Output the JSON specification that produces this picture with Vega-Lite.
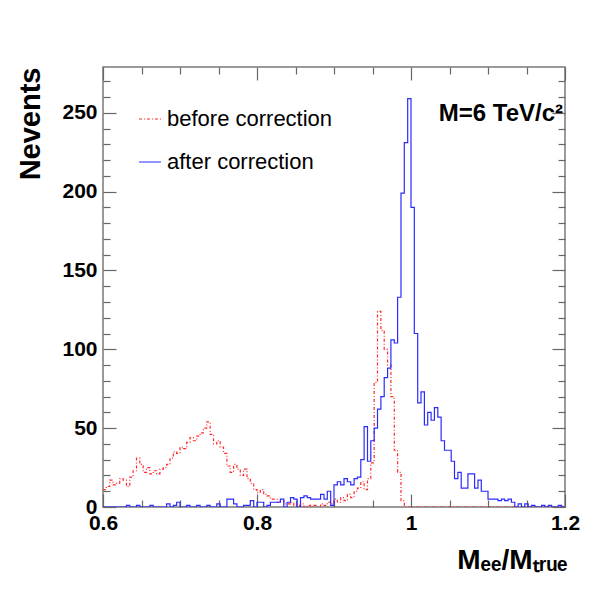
{
  "$schema": "https://vega.github.io/schema/vega-lite/v6.json",
  "width": 462,
  "height": 440,
  "autosize": {"type": "none"},
  "padding": {"left": 103, "top": 67, "right": 51, "bottom": 84},
  "background": "white",
  "config": {
    "font": "Liberation Sans",
    "view": {"stroke": "#7a7a7a", "strokeWidth": 1.5},
    "legend": {
      "symbolType": "stroke",
      "symbolSize": 484,
      "symbolStrokeWidth": 1.2,
      "labelFont": "Liberation Sans",
      "labelFontSize": 22,
      "labelColor": "black",
      "labelLimit": 0,
      "labelOffset": 5,
      "rowPadding": 20,
      "padding": 0
    }
  },
  "layer": [
    {
      "data": {
        "values": [
          {"series": "before correction", "x": 0.6000, "n": 11},
          {"series": "before correction", "x": 0.6043, "n": 13},
          {"series": "before correction", "x": 0.6087, "n": 17},
          {"series": "before correction", "x": 0.6130, "n": 14},
          {"series": "before correction", "x": 0.6174, "n": 15},
          {"series": "before correction", "x": 0.6217, "n": 18},
          {"series": "before correction", "x": 0.6261, "n": 17},
          {"series": "before correction", "x": 0.6304, "n": 13},
          {"series": "before correction", "x": 0.6348, "n": 19},
          {"series": "before correction", "x": 0.6391, "n": 23},
          {"series": "before correction", "x": 0.6435, "n": 31},
          {"series": "before correction", "x": 0.6478, "n": 27},
          {"series": "before correction", "x": 0.6522, "n": 22},
          {"series": "before correction", "x": 0.6565, "n": 25},
          {"series": "before correction", "x": 0.6609, "n": 21},
          {"series": "before correction", "x": 0.6652, "n": 23},
          {"series": "before correction", "x": 0.6696, "n": 21},
          {"series": "before correction", "x": 0.6739, "n": 24},
          {"series": "before correction", "x": 0.6783, "n": 25},
          {"series": "before correction", "x": 0.6826, "n": 27},
          {"series": "before correction", "x": 0.6870, "n": 31},
          {"series": "before correction", "x": 0.6913, "n": 35},
          {"series": "before correction", "x": 0.6957, "n": 34},
          {"series": "before correction", "x": 0.7000, "n": 38},
          {"series": "before correction", "x": 0.7043, "n": 37},
          {"series": "before correction", "x": 0.7087, "n": 41},
          {"series": "before correction", "x": 0.7130, "n": 44},
          {"series": "before correction", "x": 0.7174, "n": 42},
          {"series": "before correction", "x": 0.7217, "n": 45},
          {"series": "before correction", "x": 0.7261, "n": 47},
          {"series": "before correction", "x": 0.7304, "n": 50},
          {"series": "before correction", "x": 0.7348, "n": 54},
          {"series": "before correction", "x": 0.7391, "n": 46},
          {"series": "before correction", "x": 0.7435, "n": 40},
          {"series": "before correction", "x": 0.7478, "n": 42},
          {"series": "before correction", "x": 0.7522, "n": 38},
          {"series": "before correction", "x": 0.7565, "n": 34},
          {"series": "before correction", "x": 0.7609, "n": 26},
          {"series": "before correction", "x": 0.7652, "n": 22},
          {"series": "before correction", "x": 0.7696, "n": 27},
          {"series": "before correction", "x": 0.7739, "n": 24},
          {"series": "before correction", "x": 0.7783, "n": 20},
          {"series": "before correction", "x": 0.7826, "n": 24},
          {"series": "before correction", "x": 0.7870, "n": 18},
          {"series": "before correction", "x": 0.7913, "n": 15},
          {"series": "before correction", "x": 0.7957, "n": 11},
          {"series": "before correction", "x": 0.8000, "n": 9},
          {"series": "before correction", "x": 0.8043, "n": 11},
          {"series": "before correction", "x": 0.8087, "n": 8},
          {"series": "before correction", "x": 0.8130, "n": 7},
          {"series": "before correction", "x": 0.8174, "n": 5},
          {"series": "before correction", "x": 0.8217, "n": 5},
          {"series": "before correction", "x": 0.8261, "n": 3},
          {"series": "before correction", "x": 0.8304, "n": 4},
          {"series": "before correction", "x": 0.8348, "n": 2},
          {"series": "before correction", "x": 0.8391, "n": 2},
          {"series": "before correction", "x": 0.8435, "n": 3},
          {"series": "before correction", "x": 0.8478, "n": 1},
          {"series": "before correction", "x": 0.8522, "n": 1},
          {"series": "before correction", "x": 0.8565, "n": 2},
          {"series": "before correction", "x": 0.8609, "n": 0},
          {"series": "before correction", "x": 0.8652, "n": 1},
          {"series": "before correction", "x": 0.8696, "n": 0},
          {"series": "before correction", "x": 0.8739, "n": 1},
          {"series": "before correction", "x": 0.8783, "n": 0},
          {"series": "before correction", "x": 0.8826, "n": 2},
          {"series": "before correction", "x": 0.8870, "n": 1},
          {"series": "before correction", "x": 0.8913, "n": 3},
          {"series": "before correction", "x": 0.8957, "n": 2},
          {"series": "before correction", "x": 0.9000, "n": 5},
          {"series": "before correction", "x": 0.9043, "n": 3},
          {"series": "before correction", "x": 0.9087, "n": 6},
          {"series": "before correction", "x": 0.9130, "n": 4},
          {"series": "before correction", "x": 0.9174, "n": 8},
          {"series": "before correction", "x": 0.9217, "n": 6},
          {"series": "before correction", "x": 0.9261, "n": 10},
          {"series": "before correction", "x": 0.9304, "n": 12},
          {"series": "before correction", "x": 0.9348, "n": 16},
          {"series": "before correction", "x": 0.9391, "n": 11},
          {"series": "before correction", "x": 0.9435, "n": 18},
          {"series": "before correction", "x": 0.9478, "n": 28},
          {"series": "before correction", "x": 0.9522, "n": 79},
          {"series": "before correction", "x": 0.9565, "n": 124},
          {"series": "before correction", "x": 0.9609, "n": 112},
          {"series": "before correction", "x": 0.9652, "n": 100},
          {"series": "before correction", "x": 0.9696, "n": 90},
          {"series": "before correction", "x": 0.9739, "n": 70},
          {"series": "before correction", "x": 0.9783, "n": 36},
          {"series": "before correction", "x": 0.9826, "n": 22},
          {"series": "before correction", "x": 0.9870, "n": 4},
          {"series": "before correction", "x": 0.9913, "n": 0},
          {"series": "before correction", "x": 1.2000, "n": 0},

          {"series": "after correction", "x": 0.6000, "n": 0},
          {"series": "after correction", "x": 0.6304, "n": 1},
          {"series": "after correction", "x": 0.6348, "n": 0},
          {"series": "after correction", "x": 0.6435, "n": 1},
          {"series": "after correction", "x": 0.6478, "n": 0},
          {"series": "after correction", "x": 0.6609, "n": 1},
          {"series": "after correction", "x": 0.6652, "n": 0},
          {"series": "after correction", "x": 0.6826, "n": 2},
          {"series": "after correction", "x": 0.6870, "n": 0},
          {"series": "after correction", "x": 0.6913, "n": 1},
          {"series": "after correction", "x": 0.6957, "n": 3},
          {"series": "after correction", "x": 0.7000, "n": 0},
          {"series": "after correction", "x": 0.7087, "n": 1},
          {"series": "after correction", "x": 0.7130, "n": 0},
          {"series": "after correction", "x": 0.7217, "n": 1},
          {"series": "after correction", "x": 0.7261, "n": 0},
          {"series": "after correction", "x": 0.7348, "n": 1},
          {"series": "after correction", "x": 0.7391, "n": 0},
          {"series": "after correction", "x": 0.7478, "n": 2},
          {"series": "after correction", "x": 0.7522, "n": 0},
          {"series": "after correction", "x": 0.7609, "n": 5},
          {"series": "after correction", "x": 0.7652, "n": 5},
          {"series": "after correction", "x": 0.7696, "n": 2},
          {"series": "after correction", "x": 0.7739, "n": 0},
          {"series": "after correction", "x": 0.7826, "n": 1},
          {"series": "after correction", "x": 0.7870, "n": 1},
          {"series": "after correction", "x": 0.7913, "n": 4},
          {"series": "after correction", "x": 0.7957, "n": 0},
          {"series": "after correction", "x": 0.8000, "n": 3},
          {"series": "after correction", "x": 0.8043, "n": 3},
          {"series": "after correction", "x": 0.8087, "n": 0},
          {"series": "after correction", "x": 0.8130, "n": 1},
          {"series": "after correction", "x": 0.8174, "n": 3},
          {"series": "after correction", "x": 0.8217, "n": 3},
          {"series": "after correction", "x": 0.8261, "n": 3},
          {"series": "after correction", "x": 0.8304, "n": 5},
          {"series": "after correction", "x": 0.8348, "n": 0},
          {"series": "after correction", "x": 0.8391, "n": 3},
          {"series": "after correction", "x": 0.8435, "n": 6},
          {"series": "after correction", "x": 0.8478, "n": 5},
          {"series": "after correction", "x": 0.8522, "n": 0},
          {"series": "after correction", "x": 0.8565, "n": 6},
          {"series": "after correction", "x": 0.8609, "n": 7},
          {"series": "after correction", "x": 0.8652, "n": 6},
          {"series": "after correction", "x": 0.8696, "n": 5},
          {"series": "after correction", "x": 0.8739, "n": 5},
          {"series": "after correction", "x": 0.8783, "n": 5},
          {"series": "after correction", "x": 0.8826, "n": 8},
          {"series": "after correction", "x": 0.8870, "n": 5},
          {"series": "after correction", "x": 0.8913, "n": 10},
          {"series": "after correction", "x": 0.8957, "n": 1},
          {"series": "after correction", "x": 0.9000, "n": 14},
          {"series": "after correction", "x": 0.9043, "n": 16},
          {"series": "after correction", "x": 0.9087, "n": 14},
          {"series": "after correction", "x": 0.9130, "n": 18},
          {"series": "after correction", "x": 0.9174, "n": 16},
          {"series": "after correction", "x": 0.9217, "n": 14},
          {"series": "after correction", "x": 0.9261, "n": 18},
          {"series": "after correction", "x": 0.9304, "n": 19},
          {"series": "after correction", "x": 0.9348, "n": 30},
          {"series": "after correction", "x": 0.9391, "n": 51},
          {"series": "after correction", "x": 0.9435, "n": 29},
          {"series": "after correction", "x": 0.9478, "n": 42},
          {"series": "after correction", "x": 0.9522, "n": 50},
          {"series": "after correction", "x": 0.9565, "n": 62},
          {"series": "after correction", "x": 0.9609, "n": 70},
          {"series": "after correction", "x": 0.9652, "n": 82},
          {"series": "after correction", "x": 0.9696, "n": 88},
          {"series": "after correction", "x": 0.9739, "n": 106},
          {"series": "after correction", "x": 0.9783, "n": 104},
          {"series": "after correction", "x": 0.9826, "n": 133},
          {"series": "after correction", "x": 0.9870, "n": 199},
          {"series": "after correction", "x": 0.9913, "n": 231},
          {"series": "after correction", "x": 0.9957, "n": 259},
          {"series": "after correction", "x": 1.0000, "n": 190},
          {"series": "after correction", "x": 1.0043, "n": 110},
          {"series": "after correction", "x": 1.0087, "n": 66},
          {"series": "after correction", "x": 1.0130, "n": 73},
          {"series": "after correction", "x": 1.0174, "n": 52},
          {"series": "after correction", "x": 1.0217, "n": 60},
          {"series": "after correction", "x": 1.0261, "n": 55},
          {"series": "after correction", "x": 1.0304, "n": 63},
          {"series": "after correction", "x": 1.0348, "n": 57},
          {"series": "after correction", "x": 1.0391, "n": 42},
          {"series": "after correction", "x": 1.0435, "n": 36},
          {"series": "after correction", "x": 1.0478, "n": 36},
          {"series": "after correction", "x": 1.0522, "n": 29},
          {"series": "after correction", "x": 1.0565, "n": 18},
          {"series": "after correction", "x": 1.0609, "n": 22},
          {"series": "after correction", "x": 1.0652, "n": 12},
          {"series": "after correction", "x": 1.0696, "n": 12},
          {"series": "after correction", "x": 1.0739, "n": 21},
          {"series": "after correction", "x": 1.0783, "n": 21},
          {"series": "after correction", "x": 1.0826, "n": 12},
          {"series": "after correction", "x": 1.0870, "n": 17},
          {"series": "after correction", "x": 1.0913, "n": 10},
          {"series": "after correction", "x": 1.0957, "n": 10},
          {"series": "after correction", "x": 1.1000, "n": 5},
          {"series": "after correction", "x": 1.1043, "n": 5},
          {"series": "after correction", "x": 1.1087, "n": 5},
          {"series": "after correction", "x": 1.1130, "n": 4},
          {"series": "after correction", "x": 1.1174, "n": 5},
          {"series": "after correction", "x": 1.1217, "n": 4},
          {"series": "after correction", "x": 1.1261, "n": 5},
          {"series": "after correction", "x": 1.1304, "n": 3},
          {"series": "after correction", "x": 1.1348, "n": 0},
          {"series": "after correction", "x": 1.1391, "n": 2},
          {"series": "after correction", "x": 1.1435, "n": 0},
          {"series": "after correction", "x": 1.1478, "n": 2},
          {"series": "after correction", "x": 1.1522, "n": 0},
          {"series": "after correction", "x": 1.1565, "n": 1},
          {"series": "after correction", "x": 1.1609, "n": 0},
          {"series": "after correction", "x": 1.1696, "n": 1},
          {"series": "after correction", "x": 1.1739, "n": 0},
          {"series": "after correction", "x": 1.1783, "n": 1},
          {"series": "after correction", "x": 1.1826, "n": 0},
          {"series": "after correction", "x": 1.1913, "n": 1},
          {"series": "after correction", "x": 1.1957, "n": 0},
          {"series": "after correction", "x": 1.2000, "n": 0}
        ]
      },
      "mark": {"type": "line", "interpolate": "step-after", "strokeWidth": 1.2, "clip": true},
      "encoding": {
        "x": {
          "field": "x",
          "type": "quantitative",
          "scale": {"domain": [0.6, 1.2], "nice": false, "zero": false},
          "axis": {
            "orient": "bottom",
            "values": [0.6, 0.65, 0.7, 0.75, 0.8, 0.85, 0.9, 0.95, 1.0, 1.05, 1.1, 1.15, 1.2],
            "domain": false,
            "grid": false,
            "tickColor": "#666666",
            "tickWidth": 1.2,
            "tickSize": {"condition": {"test": "abs(datum.value*5 - round(datum.value*5)) < 0.001", "value": -13}, "value": -7},
            "labelExpr": "abs(datum.value*5 - round(datum.value*5)) < 0.001 ? format(datum.value, '~g') : ''",
            "labelFont": "Liberation Sans",
            "labelFontSize": 21,
            "labelFontWeight": "bold",
            "labelColor": "black",
            "labelPadding": 18,
            "labelFlush": false,
            "labelOverlap": false,
            "title": "Mₑₑ/Mₜᵣᵤₑ",
            "titleFont": "Liberation Sans",
            "titleFontSize": 28,
            "titleFontWeight": "bold",
            "titleColor": "black",
            "titleAnchor": "end",
            "titleAlign": "right",
            "titleBaseline": "alphabetic",
            "titleX": 464,
            "titleY": 61
          }
        },
        "y": {
          "field": "n",
          "type": "quantitative",
          "scale": {"domain": [0, 279], "nice": false},
          "axis": {
            "orient": "left",
            "values": [0, 10, 20, 30, 40, 50, 60, 70, 80, 90, 100, 110, 120, 130, 140, 150, 160, 170, 180, 190, 200, 210, 220, 230, 240, 250, 260, 270],
            "domain": false,
            "grid": false,
            "tickColor": "#666666",
            "tickWidth": 1.2,
            "tickSize": {"condition": {"test": "datum.value % 50 == 0", "value": -13}, "value": -7},
            "labelExpr": "datum.value % 50 == 0 ? datum.label : ''",
            "labelFont": "Liberation Sans",
            "labelFontSize": 21,
            "labelFontWeight": "bold",
            "labelColor": "black",
            "labelPadding": 19,
            "labelFlush": false,
            "labelOverlap": false,
            "title": "Nevents",
            "titleFont": "Liberation Sans",
            "titleFontSize": 29,
            "titleFontWeight": "bold",
            "titleColor": "black",
            "titleAngle": -90,
            "titleAnchor": "end",
            "titleAlign": "right",
            "titleBaseline": "middle",
            "titleX": -73,
            "titleY": 0
          }
        },
        "color": {
          "field": "series",
          "type": "nominal",
          "scale": {"domain": ["before correction", "after correction"], "range": ["#ff2a2a", "#2a2aff"]},
          "legend": {"orient": "none", "legendX": 35, "legendY": 40, "title": null}
        },
        "strokeDash": {
          "field": "series",
          "type": "nominal",
          "scale": {"domain": ["before correction", "after correction"], "range": [[3, 2, 1, 2], [1, 0]]},
          "legend": {"orient": "none", "legendX": 35, "legendY": 40, "title": null}
        }
      }
    },
    {
      "data": {"values": [{"label": "M=6 TeV/c²", "x": 1.1974, "n": 245}]},
      "mark": {"type": "text", "align": "right", "baseline": "alphabetic", "font": "Liberation Sans", "fontSize": 24, "fontWeight": "bold", "color": "black"},
      "encoding": {
        "text": {"field": "label"},
        "x": {
          "field": "x",
          "type": "quantitative",
          "axis": {
            "orient": "top",
            "values": [0.6, 0.65, 0.7, 0.75, 0.8, 0.85, 0.9, 0.95, 1.0, 1.05, 1.1, 1.15, 1.2],
            "domain": false,
            "grid": false,
            "labels": false,
            "title": null,
            "tickColor": "#666666",
            "tickWidth": 1.2,
            "tickSize": {"condition": {"test": "abs(datum.value*5 - round(datum.value*5)) < 0.001", "value": -13}, "value": -7}
          }
        },
        "y": {
          "field": "n",
          "type": "quantitative",
          "axis": {
            "orient": "right",
            "values": [0, 10, 20, 30, 40, 50, 60, 70, 80, 90, 100, 110, 120, 130, 140, 150, 160, 170, 180, 190, 200, 210, 220, 230, 240, 250, 260, 270],
            "domain": false,
            "grid": false,
            "labels": false,
            "title": null,
            "tickColor": "#666666",
            "tickWidth": 1.2,
            "tickSize": {"condition": {"test": "datum.value % 50 == 0", "value": -13}, "value": -7}
          }
        }
      }
    }
  ],
  "resolve": {"axis": {"x": "independent", "y": "independent"}}
}
